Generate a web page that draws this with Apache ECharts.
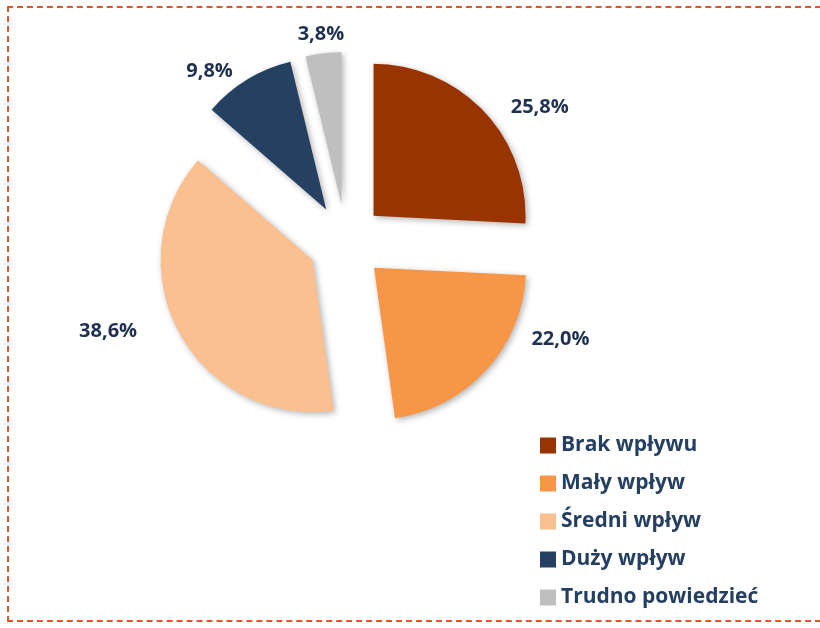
<!DOCTYPE html>
<html>
<head>
<meta charset="utf-8">
<script src="https://cdn.jsdelivr.net/npm/echarts@6/dist/echarts.min.js"></script>
<style>
  html, body { margin: 0; padding: 0; background: #fff; }
  .frame {
    position: absolute; left: 7px; top: 6px; width: 830px; height: 612px;
    border: 2px dashed #D9582B;
  }
  #chart { position: absolute; left: 0; top: 0; width: 820px; height: 628px; }
</style>
</head>
<body>
<div class="frame"></div>
<div id="chart"></div>
<script>
// dane
const categories = ['Brak wpływu', 'Mały wpływ', 'Średni wpływ', 'Duży wpływ', 'Trudno powiedzieć']
const values = [25.8, 22.0, 38.6, 9.8, 3.8]
const colors = ['#993300', '#F79646', '#FAC090', '#254061', '#BFBFBF']

// przesunięcia etykiet (jak "najlepsze dopasowanie" w Excelu)
const labelShift = [[9, 9], [27, -43], [-21, -10], [0, 7], [28, -1]]

const chart = echarts.init(document.getElementById('chart'))

const option = {
  animation: false,
  legend: {
    orient: 'vertical',
    left: 540,
    top: 435,
    height: 200,
    padding: 0,
    itemWidth: 16,
    itemHeight: 16,
    itemGap: 17,
    selectedMode: false,
    icon: 'rect',
    textStyle: {
      fontFamily: 'Open Sans',
      fontWeight: 'bold',
      fontSize: 21,
      lineHeight: 20,
      color: '#243F60'
    },
    data: categories
  },
  series: [
    {
      type: 'pie',
      center: [346, 242],
      radius: 152,
      startAngle: 90,
      clockwise: true,
      selectedMode: 'multiple',
      selectedOffset: 38,
      emphasis: { disabled: true },
      itemStyle: {
        shadowBlur: 6,
        shadowColor: 'rgba(0,0,0,0.3)',
        shadowOffsetX: 2,
        shadowOffsetY: 2
      },
      label: {
        show: true,
        position: 'outside',
        formatter: (p) => p.value.toFixed(1).replace('.', ',') + '%',
        fontFamily: 'Open Sans',
        fontWeight: 'bold',
        fontSize: 20,
        color: '#1F3050'
      },
      labelLine: { show: false, length: 18, length2: 0 },
      labelLayout: (p) => ({
        dx: labelShift[p.dataIndex][0],
        dy: labelShift[p.dataIndex][1]
      }),
      data: categories.map((name, i) => ({
        name: name,
        value: values[i],
        selected: true,
        itemStyle: { color: colors[i] }
      }))
    }
  ]
}

chart.setOption(option)
</script>
</body>
</html>
